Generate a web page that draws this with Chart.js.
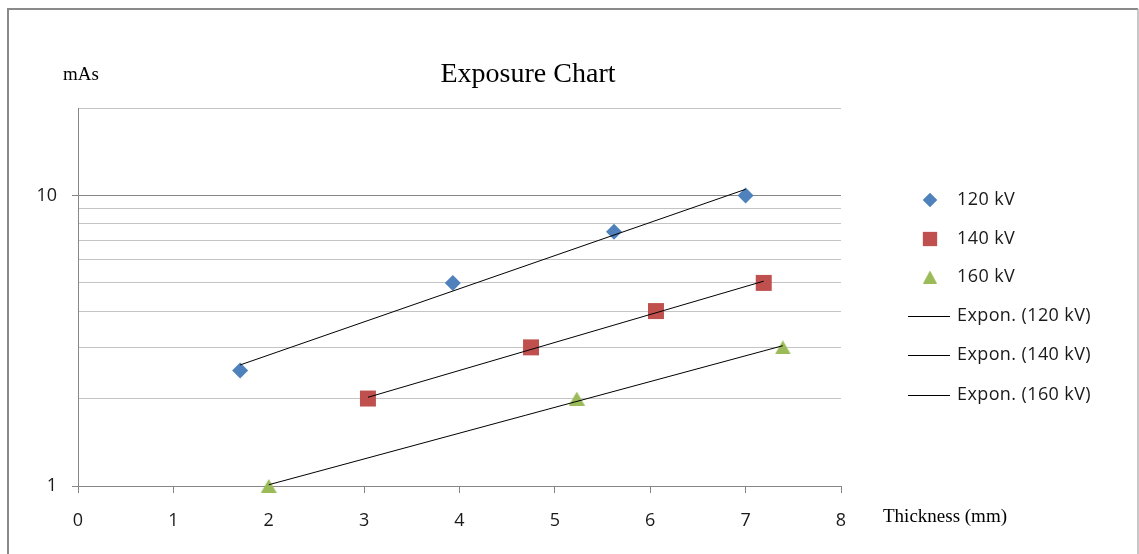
<!DOCTYPE html>
<html>
<head>
<meta charset="utf-8">
<title>Exposure Chart</title>
<script src="https://cdn.jsdelivr.net/npm/chart.js@4/dist/chart.umd.min.js"></script>
<style>
  html, body { margin: 0; padding: 0; background: #ffffff; }
  canvas { display: block; }
</style>
</head>
<body>
<canvas id="chart" width="1139" height="554"></canvas>
<script>
// Measured exposure values (thickness in mm, exposure in mAs)
const thickness120 = [1.7, 3.93, 5.62, 7.0];
const mas120       = [2.5, 5, 7.5, 10];
const thickness140 = [3.04, 4.75, 6.06, 7.19];
const mas140       = [2, 3, 4, 5];
const thickness160 = [2.0, 5.23, 7.39];
const mas160       = [1, 2, 3];

// Exponential trendline end points for each tube voltage
const trendX120 = [1.7, 7.0];
const trendY120 = [2.61, 10.5];
const trendX140 = [3.04, 7.19];
const trendY140 = [2.02, 5.07];
const trendX160 = [2.0, 7.39];
const trendY160 = [1.01, 3.04];

const xTicks = [0, 1, 2, 3, 4, 5, 6, 7, 8];
const yTicks = [1, 2, 3, 4, 5, 6, 7, 8, 9, 10, 20];
const yLabelled = [1, 10];

const seriesNames = ['120 kV', '140 kV', '160 kV'];
const trendNames = ['Expon. (120 kV)', 'Expon. (140 kV)', 'Expon. (160 kV)'];

const BLUE = '#4f81bd', RED = '#c0504d', GREEN = '#9bbb59';
const AXIS = '#868686', GRID = '#c4c4c4';
const SANS = '"Open Sans", "Liberation Sans", sans-serif';
const SERIF = '"Liberation Serif", "Times New Roman", serif';

const pairs = (xs, ys) => xs.map((x, i) => ({ x: x, y: ys[i] }));

// Triangle marker whose bounding box is centred on the data point
function triangleMarker(width, height, color) {
  const c = document.createElement('canvas');
  c.width = Math.ceil(width);
  c.height = Math.ceil(height);
  const g = c.getContext('2d');
  g.fillStyle = color;
  g.beginPath();
  g.moveTo(c.width / 2, 0);
  g.lineTo(c.width, c.height);
  g.lineTo(0, c.height);
  g.closePath();
  g.fill();
  return c;
}
const plotTriangle = triangleMarker(16, 14, GREEN);
const legendTriangle = triangleMarker(14, 13, GREEN);

function pointSet(label, xs, ys, color, style, radius) {
  return {
    label: label, data: pairs(xs, ys), showLine: false,
    pointStyle: style, pointRadius: radius, pointHoverRadius: radius,
    backgroundColor: color, borderColor: color, pointBorderWidth: 0,
    order: 1, clip: false
  };
}
function trendSet(label, xs, ys) {
  return {
    label: label, data: pairs(xs, ys), showLine: true,
    borderColor: '#000000', borderWidth: 1, pointRadius: 0,
    backgroundColor: '#000000', order: 0, clip: false
  };
}

// Frame, captions and the legend column drawn on the canvas
const decorations = {
  id: 'decorations',
  beforeDraw(chart) {
    const ctx = chart.ctx;
    ctx.save();
    ctx.fillStyle = '#ffffff';
    ctx.fillRect(0, 0, chart.width, chart.height);
    ctx.strokeStyle = '#8a8a8a';
    ctx.lineWidth = 2;
    ctx.beginPath();
    ctx.moveTo(8, 600); ctx.lineTo(8, 9); ctx.lineTo(1138, 9);
    ctx.stroke();
    ctx.strokeStyle = '#b4b4b4';
    ctx.lineWidth = 1.5;
    ctx.beginPath();
    ctx.moveTo(1138, 9); ctx.lineTo(1138, 600);
    ctx.stroke();
    ctx.restore();
  },
  afterDraw(chart) {
    const ctx = chart.ctx;
    ctx.save();
    ctx.fillStyle = '#000000';
    ctx.textBaseline = 'alphabetic';
    ctx.textAlign = 'center';
    ctx.font = '28px ' + SERIF;
    ctx.fillText('Exposure Chart', 528, 82, 178);
    ctx.textAlign = 'left';
    ctx.font = '19px ' + SERIF;
    ctx.fillText('mAs', 63, 80);
    ctx.font = '19px ' + SERIF;
    ctx.fillText('Thickness (mm)', 883, 522, 129);

    // legend
    const ds = chart.data.datasets;
    const markerX = 930, textX = 957;
    const rowY = [200, 239, 277, 316, 355, 395];
    const legendRadius = [7, 10, 8.5];
    ctx.font = '18px ' + SANS;
    if ('letterSpacing' in ctx) ctx.letterSpacing = '0.4px';
    ctx.textBaseline = 'middle';
    ds.forEach((d, i) => {
      const y = rowY[i];
      if (d.showLine) {
        ctx.strokeStyle = d.borderColor;
        ctx.lineWidth = 1;
        ctx.beginPath();
        ctx.moveTo(908, Math.round(y) + 0.5);
        ctx.lineTo(950, Math.round(y) + 0.5);
        ctx.stroke();
      } else if (typeof d.pointStyle !== 'string') {
        ctx.drawImage(legendTriangle, markerX - legendTriangle.width / 2, y - legendTriangle.height / 2);
      } else {
        ctx.fillStyle = d.backgroundColor;
        Chart.helpers.drawPoint(ctx, {
          pointStyle: d.pointStyle, radius: legendRadius[i], borderWidth: 0, rotation: 0
        }, markerX, y);
        ctx.fill();
      }
      ctx.fillStyle = '#1a1a1a';
      ctx.fillText(d.label, textX, y);
    });
    ctx.restore();
  }
};

new Chart(document.getElementById('chart'), {
  type: 'scatter',
  data: {
    datasets: [
      pointSet(seriesNames[0], thickness120, mas120, BLUE, 'rectRot', 8),
      pointSet(seriesNames[1], thickness140, mas140, RED, 'rect', 11.3),
      pointSet(seriesNames[2], thickness160, mas160, GREEN, plotTriangle, 8),
      trendSet(trendNames[0], trendX120, trendY120),
      trendSet(trendNames[1], trendX140, trendY140),
      trendSet(trendNames[2], trendX160, trendY160)
    ]
  },
  options: {
    responsive: false,
    devicePixelRatio: 1,
    animation: false,
    events: [],
    layout: { padding: { top: 108, right: 298, left: 0, bottom: 0 } },
    plugins: { legend: { display: false }, title: { display: false }, tooltip: { enabled: false } },
    scales: {
      x: {
        type: 'linear', min: 0, max: 8,
        afterFit(scale) { scale.height = 68; },
        afterBuildTicks(scale) { scale.ticks = xTicks.map(v => ({ value: v })); },
        grid: { drawOnChartArea: false, drawTicks: true, tickLength: 7, color: AXIS, tickColor: AXIS },
        border: { display: true, color: AXIS, width: 1 },
        ticks: { padding: 17, color: '#1a1a1a', font: { family: SANS, size: 18 }, maxRotation: 0, autoSkip: false }
      },
      y: {
        type: 'logarithmic', min: 1, max: 20,
        afterFit(scale) { scale.width = 78; },
        afterBuildTicks(scale) { scale.ticks = yTicks.map(v => ({ value: v })); },
        grid: {
          drawTicks: true, tickLength: 6,
          color: c => (c.tick && c.tick.value === 10) ? AXIS : GRID,
          tickColor: c => (c.tick && yLabelled.includes(c.tick.value)) ? AXIS : 'rgba(0,0,0,0)'
        },
        border: { display: true, color: AXIS, width: 1 },
        ticks: {
          padding: 15, color: '#1a1a1a', autoSkip: false,
          font: { family: SANS, size: 18 },
          callback: v => yLabelled.includes(v) ? String(v) : ''
        }
      }
    }
  },
  plugins: [decorations]
});
</script>
</body>
</html>
